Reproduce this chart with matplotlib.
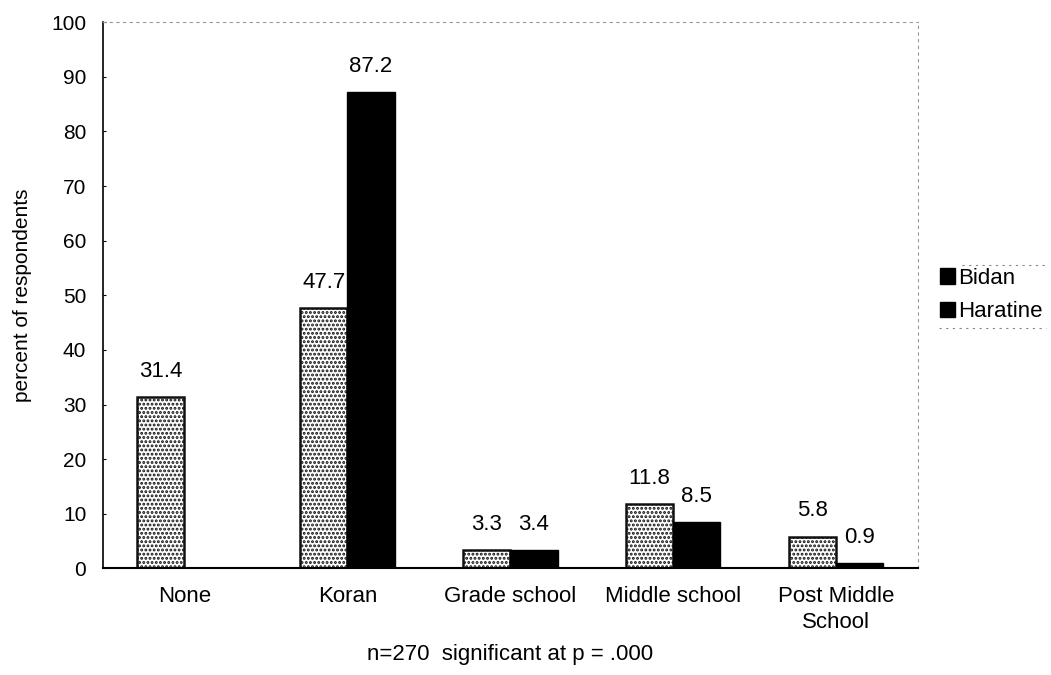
import numpy as np
import matplotlib
matplotlib.use("Agg")
import matplotlib.pyplot as plt
from matplotlib.patches import Patch

plt.rcParams["font.family"] = ["Liberation Sans", "DejaVu Sans"]
plt.rcParams["hatch.linewidth"] = 1.4

categories = ["None", "Koran", "Grade school", "Middle school", "Post Middle\nSchool"]
bidan = [31.4, 47.7, 3.3, 11.8, 5.8]
haratine = [np.nan, 87.2, 3.4, 8.5, 0.9]
yticks = list(range(0, 101, 10))

x = np.arange(len(categories))
width = 0.29
fs = 16

fig = plt.figure(figsize=(10.51, 6.75), dpi=100)
ax = fig.add_axes([0.098, 0.158, 0.775, 0.809])

# speckled bars for Bidan, solid black for Haratine
ax.bar(x - width / 2, bidan, width, facecolor="white", edgecolor="#111111",
       hatch="....", linewidth=1.8, label="Bidan")
ax.bar(x + width / 2, haratine, width, facecolor="black", edgecolor="black",
       linewidth=1.0, label="Haratine")

for xs, vals in ((x - width / 2, bidan), (x + width / 2, haratine)):
    for xi, v in zip(xs, vals):
        if np.isnan(v):
            continue
        ax.annotate(f"{v}", (xi, v), xytext=(0, 11), textcoords="offset points",
                    ha="center", va="bottom", fontsize=fs)

ax.set_xlim(-0.5, len(categories) - 0.5)
ax.set_ylim(0, 100)
ax.set_yticks(yticks)
ax.set_xticks(x)
ax.set_xticklabels(categories, fontsize=fs, linespacing=1.3)
ax.tick_params(axis="y", labelsize=15, length=2, direction="in", pad=12)
ax.tick_params(axis="x", length=0, pad=13)

ax.spines["left"].set_linewidth(1.2)
ax.spines["bottom"].set_linewidth(1.5)
for side in ("top", "right"):
    ax.spines[side].set_color("#999999")
    ax.spines[side].set_linestyle((0, (2, 4)))
    ax.spines[side].set_linewidth(0.8)

ax.set_ylabel("percent of respondents", fontsize=15, labelpad=14)
ax.set_xlabel("n=270  significant at p = .000", fontsize=fs, labelpad=8)

handles = [Patch(facecolor="black", edgecolor="black", label="Bidan"),
           Patch(facecolor="black", edgecolor="black", label="Haratine")]
leg = fig.legend(handles=handles, loc="center left", bbox_to_anchor=(0.877, 0.563),
                 frameon=False, fontsize=fs, handlelength=0.7, handleheight=0.7,
                 handletextpad=0.15, borderpad=0.3, labelspacing=0.55)

# dotted rules above and below the legend entries
for yy, x0 in ((0.607, 0.915), (0.514, 0.893)):
    fig.add_artist(plt.Line2D([x0, 0.995], [yy, yy], transform=fig.transFigure,
                              color="#888888", linestyle=(0, (2, 4)), linewidth=0.8))

fig.savefig("out.png", dpi=100)
